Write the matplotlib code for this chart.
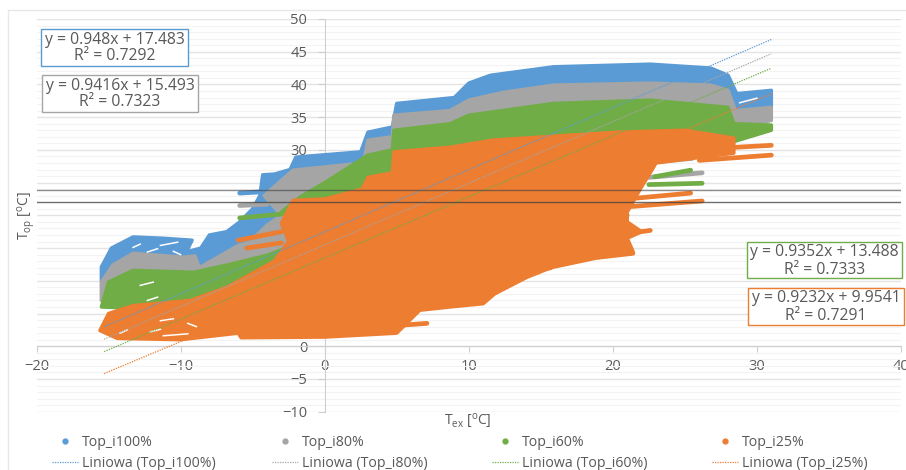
import matplotlib
matplotlib.use("Agg")
import numpy as np
import matplotlib.pyplot as plt
from matplotlib.lines import Line2D
from matplotlib.patches import Rectangle

plt.rcParams["font.family"] = ["Open Sans", "DejaVu Sans"]

names = ["Top_i100%", "Top_i80%", "Top_i60%", "Top_i25%"]
colors = ["#5b9bd5", "#a5a5a5", "#70ad47", "#ed7d31"]
slopes = [0.948, 0.9416, 0.9352, 0.9232]
intercepts = [17.483, 15.493, 13.488, 9.9541]
r2 = ["0.7292", "0.7323", "0.7333", "0.7291"]
trend_x = [-15.3, 31]
hlines = [23.9, 22.0]

# outlines of the point clouds
blue_x = [-15.5, -15.5, -14.8, -13.3, -11.2, -9.2, -9.6, -8.6, -8, -6.8, -5.9, -5, -4.5, -4.3, -3.5, -2.4, -2, 2.5, 3, 4.7, 5, 9, 10, 11.5, 15.9, 22.6, 26.8, 28, 28.6, 31, 31, 28.5, 20, 5, -5]
blue_y = [10, 12.1, 15, 16.7, 16.5, 16.2, 14.4, 15, 17, 17.5, 19, 21, 23, 26.2, 26.3, 27, 28.9, 29.7, 32.7, 33.5, 37.1, 38, 40.2, 41.4, 42.7, 43.1, 42.5, 41.4, 38.6, 39.1, 36.5, 36, 36, 28, 12]
gray_x = [-15.5, -15.5, -14.7, -13.3, -9.8, -9, -8.7, -7.5, -6, -5.2, -4, -3, -4.2, -2.2, 2.7, 3, 4.7, 4.8, 8.7, 10, 12.4, 15.9, 22.6, 26.8, 28, 28.5, 31, 31, 28, 20, 5, -5]
gray_y = [7, 9.8, 12.4, 14.2, 13.6, 13.8, 12, 13.5, 15.4, 15.9, 18.5, 20, 23, 26.9, 28, 31.5, 32, 35.3, 36, 37.6, 38.8, 39.9, 40.2, 39.9, 39.1, 36, 36.5, 34.5, 33, 32, 25, 10]
green_x = [-15.5, -15, -13.3, -9.1, -6.8, -4, -2.2, -2.2, -3, -1.7, 0, 3, 4.7, 4.8, 8.7, 10, 15.9, 22.6, 28, 28.4, 31, 31, 28, 20, 5, -5]
green_y = [6, 9.8, 11.6, 11.3, 12.4, 13.9, 15.4, 19, 20.5, 22.8, 25, 29.2, 30, 33, 34, 35.3, 37.1, 37.6, 36.5, 34, 33.8, 33, 31, 28, 20, 5]
orange_x = [-15.6, -15, -13.3, -9.3, -6.8, -5.2, -3.5, -2.5, -3, -2.2, 0, 2.6, 3, 4.7, 4.8, 8.7, 11.7, 20.3, 25, 28.4, 28.4, 23, 22.6, 21.9, 21, 21, 22, 21, 21.4, 20, 15.7, 14, 11.8, 11, 8.7, 6.6, 5, 0, -5.8, -6, -10, -14.4]
orange_y = [2.4, 5, 6.2, 7, 9, 10.9, 13, 16, 18.8, 22.3, 22.5, 24, 25.8, 26.5, 29.7, 30.4, 31.5, 32.7, 33, 31.8, 29.5, 28, 26.5, 24, 20.5, 19, 17.5, 16.5, 14.5, 14, 12, 10.5, 8, 6.5, 6, 5.5, 2, 1.4, 1.3, 2, 1, 1.2]
clouds = [(blue_x, blue_y), (gray_x, gray_y), (green_x, green_y), (orange_x, orange_y)]

# single runs of points sticking out of the clouds: x0, x1, y0, y1
blue_runs = [(20, 21, 20.6, 21), (-5.9, -4.3, 23.4, 23.6), (-4.3, -3.3, 25, 26)]
gray_runs = [(22.5, 26.2, 25.8, 26.5), (-5.9, -4, 21.5, 21.7), (23.5, 25.5, 28.3, 28.7)]
green_runs = [(22.5, 26.2, 24.7, 24.9), (22.9, 25.4, 25.9, 26.9), (17, 21, 21.6, 22.2), (18, 21, 19.2, 20),
              (9, 10.2, 9, 9), (-5.9, -3, 19.6, 20.2)]
orange_runs = [(26, 31, 30.1, 30.7), (26, 31, 28.4, 29.2), (21, 26.2, 21.3, 22.2), (21, 25.4, 22.5, 23.4),
               (20, 22.6, 16.9, 17.7), (19, 21.4, 13.6, 14.2), (12.5, 15.7, 10.8, 12), (9, 11.8, 7.6, 8.5), (4, 7.1, 3, 3.5),
               (-6, -3, 16.2, 17.5), (-5.4, -3, 15, 15.8)]
runs = [blue_runs, gray_runs, green_runs, orange_runs]

# white gaps inside the clouds: x0, x1, y0, y1
gaps = [(-13.3, -12.8, 15.1, 15.6), (-12.3, -11.6, 14.4, 14.9), (-11.4, -10.2, 15.4, 15.9), (-10.5, -10, 14.5, 14.0),
        (-12.8, -11.9, 9.3, 9.8), (-12.3, -11.6, 7.0, 7.5), (-12.1, -11.4, 2.2, 2.6), (-11.2, -9.5, 1.6, 1.9),
        (-9.5, -8.9, 3.5, 3.0), (-11.4, -10.5, 3.9, 4.2), (-14.2, -13.7, 2.0, 2.5), (28.8, 30, 37.2, 37.9)]

W, H = 906, 470


def fx(p):
    return p / W


def fy(p):
    return 1 - p / H


fig = plt.figure(figsize=(W / 100, H / 100), dpi=100)
ax = fig.add_axes([fx(36.5), fy(411.7), (901 - 36.5) / W, (411.7 - 19) / H])

for (xs, ys), rr, c in zip(clouds, runs, colors):
    ax.fill(xs, ys, color=c, lw=2.5, joinstyle="round", zorder=3)
    for x0, x1, y0, y1 in rr:
        ax.plot([x0, x1], [y0, y1], color=c, lw=3.4, solid_capstyle="round", zorder=3)

for x0, x1, y0, y1 in gaps:
    ax.plot([x0, x1], [y0, y1], color="white", lw=1.1, zorder=3.5)

for m, b, c in zip(slopes, intercepts, colors):
    ys = [m * t + b for t in trend_x]
    ax.plot(trend_x, ys, color=c, lw=0.9, ls=(0, (1, 1)), zorder=4)

ax.axhline(hlines[0], color="#404040", lw=1, alpha=0.6, zorder=5)
ax.axhline(hlines[1], color="#404040", lw=1, alpha=0.75, zorder=5)

ax.set_xlim(-20, 40)
ax.set_ylim(-10, 50)
ax.set_xticks(range(-20, 41, 10))
ax.set_yticks(range(-10, 51, 5))
ax.set_yticks(range(-10, 51), minor=True)
ax.grid(True, which="major", axis="y", color="#e4e4e4", lw=1)
ax.grid(True, which="minor", axis="y", color="#f3f3f3", lw=0.8)
ax.set_axisbelow(True)
for s in ["top", "right"]:
    ax.spines[s].set_visible(False)
ax.spines["left"].set_position(("data", 0))
ax.spines["bottom"].set_position(("data", 0))
ax.spines["left"].set_color("#cfcfcf")
ax.spines["bottom"].set_color("#cfcfcf")
ax.tick_params(axis="x", which="major", length=4, color="#cfcfcf", labelcolor="#595959", labelsize=10.5, pad=5)
ax.tick_params(axis="y", which="major", length=5, color="#cfcfcf", labelcolor="#595959", labelsize=10.5, pad=7.5)
ax.tick_params(which="minor", length=0)

fig.text(fx(468), fy(421.5), r"T$_{\mathregular{ex}}$ [$^{\mathregular{o}}$C]", color="#595959", fontsize=10, ha="center", va="center")
fig.text(fx(26), fy(216), r"T$_{\mathregular{op}}$ [$^{\mathregular{o}}$C]", color="#595959", fontsize=10, rotation=90, ha="center", va="center")

# equation boxes
boxes = [(41, 29, 147, 37), (42, 75, 156, 37), (747, 242, 155, 36), (748, 288, 156, 37)]
for (bx, by, bw, bh), m, b, r, c in zip(boxes, slopes, intercepts, r2, colors):
    fig.add_artist(Rectangle((fx(bx), fy(by + bh)), bw / W, bh / H, transform=fig.transFigure,
                             facecolor="white", edgecolor=c, lw=1, zorder=6))
    fig.text(fx(bx + bw / 2), fy(by + 10.5), f"y = {m}x + {b}", color="#595959", fontsize=11.3,
             ha="center", va="center", zorder=7)
    fig.text(fx(bx + bw / 2), fy(by + 27.5), f"R² = {r}", color="#595959", fontsize=11.3,
             ha="center", va="center", zorder=7)

# one legend per series so the columns keep an even step
legend_left = [52, 272, 492, 712]
for n, c, lx in zip(names, colors, legend_left):
    h1 = Line2D([], [], ls="", marker="o", ms=3.5, color=c)
    h2 = Line2D([], [], color=c, lw=0.9, ls=(0, (1, 1)))
    leg = fig.legend([h1, h2], [n, f"Liniowa ({n})"], loc="lower left", bbox_to_anchor=(fx(lx), fy(471.3)),
                     frameon=False, fontsize=10.2, labelcolor="#595959", handlelength=1.8, handletextpad=0.3,
                     labelspacing=0.42, borderpad=0, borderaxespad=0)

# outer chart border
fig.add_artist(Line2D([fx(8), fx(8), fx(906)], [fy(470), fy(10), fy(10)], color="#e8e8e8", lw=1))

fig.savefig("out.png", dpi=100)
